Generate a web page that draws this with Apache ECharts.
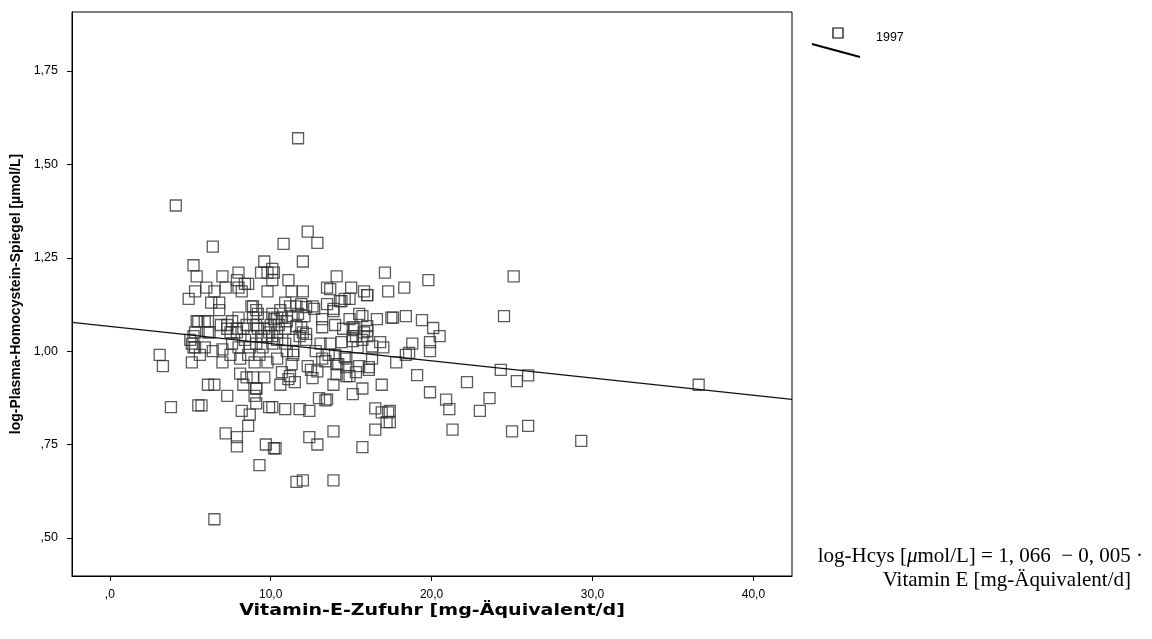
<!DOCTYPE html>
<html><head><meta charset="utf-8">
<script src="https://cdn.jsdelivr.net/npm/echarts@6/dist/echarts.min.js"></script>
<style>html,body{margin:0;padding:0;background:#fff}#c{width:1152px;height:639px}</style>
</head><body><div id="c"></div>
<script>
// Vitamin E intake [mg-Äquivalent/d] vs log plasma homocysteine [µmol/L]
const vitaminE = [
3.1,3.3,3.8,4.1,4.9,5.2,5.3,5.4,5.4,5.3,5.1,5.2,5.1,5.5,5.7,6.5,
6.4,6.0,7.0,8.0,7.9,8.4,8.2,7.2,6.5,6.3,6.8,6.8,5.5,6.1,6.1,7.3,7.6,8.0,7.9,
7.0,6.1,6.5,7.3,8.2,8.7,8.6,7.2,7.9,7.9,8.0,8.6,
7.3,7.5,7.9,8.3,8.5,9.1,9.6,9.9,9.4,9.8,10.4,
5.2,5.3,5.9,6.4,7.0,7.6,8.0,8.4,8.7,9.1,9.5,10.1,
8.1,9.3,9.8,10.4,
8.1,8.5,8.9,9.1,9.0,9.1,9.6,9.9,8.3,9.1,9.7,10.2,9.3,
8.9,9.1,8.9,9.6,10.1,10.4,10.2,8.8,9.2,
9.6,9.4,9.8,10.1,10.1,9.8,
10.8,12.9,12.0,17.1,10.2,11.1,11.3,12.0,10.9,14.1,13.5,15.0,15.8,16.0,17.3,18.3,
11.6,11.9,12.2,12.7,13.5,13.9,14.3,14.6,14.9,
10.7,11.3,11.7,12.1,
13.2,14.0,14.9,15.7,16.0,16.6,17.5,18.4,
11.9,12.0,11.8,15.2,15.1,15.8,16.0,
10.1,10.4,10.9,11.4,12.2,
16.8,17.0,17.8,18.4,
11.4,11.3,12.3,13.4,14.0,14.6,14.7,15.5,16.1,
13.7,14.4,16.0,13.9,13.2,15.5,15.1,16.0,11.6,12.2,
13.7,14.4,15.1,15.3,15.7,16.3,11.4,13.2,14.7,16.3,14.1,
12.9,11.1,11.5,12.6,13.9,14.2,14.7,15.3,15.1,15.7,13.0,13.5,
10.7,11.2,10.6,14.1,14.9,16.9,16.1,
10.1,10.9,11.8,12.4,13.4,13.9,12.4,12.9,10.3,15.7,16.5,16.9,17.3,17.2,16.5,
11.6,12.0,13.9,
17.6,19.4,20.1,20.5,19.9,19.9,18.8,18.6,19.8,25.1,24.5,24.3,25.3,26.0,19.1,22.2,
19.9,20.9,21.1,23.6,23.0,21.3,25.0,26.0,17.4,17.4,29.3,36.6,
11.7,12.3,
7.5,8.6,9.0,8.8,9.2,10.0,10.5,10.9,11.0,10.6,11.2,5.0,5.6,6.2,6.9,5.9,
12.8,13.1,12.5,14.5,15.4,12.6,11.0,13.6
];
const logHcys = [
0.99,0.96,0.85,1.39,1.14,1.23,1.16,1.20,1.08,1.05,1.02,1.01,0.97,0.855,0.855,0.55,
1.28,1.17,1.20,1.21,1.19,1.18,1.16,1.17,1.16,1.13,1.13,1.11,1.08,1.08,1.05,1.06,1.08,1.09,1.06,
0.97,0.91,0.91,0.88,0.84,0.83,0.80,0.78,0.77,0.745,1.17,1.18,
1.07,1.05,1.05,1.06,1.07,1.07,1.06,1.05,1.04,1.04,1.05,
1.04,1.01,1.01,1.00,1.005,1.02,1.01,1.03,1.01,1.02,1.01,1.02,
0.98,0.99,0.97,0.98,
0.94,0.93,0.93,0.90,0.88,0.86,0.93,0.85,0.91,0.90,0.75,0.74,0.695,
1.12,1.11,1.09,1.09,1.10,1.09,1.086,1.12,1.10,
1.24,1.21,1.21,1.22,1.19,1.16,
1.287,1.29,1.24,1.21,1.21,1.19,1.16,1.16,1.13,1.20,1.17,1.17,1.16,1.15,1.16,1.17,
1.12,1.126,1.118,1.113,1.126,1.113,1.134,1.14,1.14,
1.09,1.094,1.10,1.094,
1.064,1.07,1.086,1.094,1.067,1.086,1.09,1.094,
1.064,1.05,1.04,1.06,1.04,1.05,1.04,
1.04,1.03,1.02,1.03,1.03,
1.024,1.01,0.97,0.99,
0.99,0.965,0.96,0.973,0.99,0.984,0.957,0.96,0.957,
1.166,1.134,1.15,1.107,1.086,1.10,1.064,1.054,1.067,1.046,
1.02,1.024,1.027,1.04,1.03,1.013,1.00,0.98,0.98,0.98,0.965,
0.946,0.925,0.917,0.928,0.91,0.965,0.933,0.944,0.885,0.90,0.874,0.871,
0.944,0.933,0.91,0.938,0.933,0.91,0.95,
0.85,0.845,0.845,0.84,0.868,0.785,0.77,0.75,0.74,0.743,0.847,0.836,0.836,0.81,0.79,
0.65,0.654,0.654,
1.09,1.083,1.062,1.04,1.024,1.00,1.02,0.995,1.19,1.20,1.094,0.95,0.92,0.935,0.936,0.917,
0.89,0.87,0.845,0.874,0.84,0.79,0.785,0.80,0.84,0.81,0.76,0.91,
1.57,1.32,
0.99,0.99,0.97,1.04,1.06,1.07,1.07,1.06,1.08,1.11,1.12,1.03,0.99,1.05,1.07,1.08,
1.00,1.02,0.95,1.06,1.01,1.12,1.00,0.99
];
// fitted line endpoints (log-Hcys = 1,066 − 0,005 · Vitamin E)
const fitX = [-2.35, 42.4];
const fitY = [1.077, 0.871];
const xTicks = [0, 10, 20, 30, 40];
const xTickLabels = [',0', '10,0', '20,0', '30,0', '40,0'];
const yTicks = [0.5, 0.75, 1.0, 1.25, 1.5, 1.75];
const yTickLabels = [',50', ',75', '1,00', '1,25', '1,50', '1,75'];
const legendLabel = '1997';
const xTitle = 'Vitamin-E-Zufuhr [mg-Äquivalent/d]';
const yTitle = 'log-Plasma-Homocystein-Spiegel [µmol/L]';

const points = vitaminE.map((v, i) => [v, logHcys[i]]);
const fit = fitX.map((v, i) => [v, fitY[i]]);
const lab = (vals, labels) => (v) => { const i = vals.findIndex(t => Math.abs(t - v) < 1e-9); return i >= 0 ? labels[i] : ''; };
const narrow = '"Liberation Sans Narrow", "Liberation Sans", Arial, sans-serif';
const serif = '"Liberation Serif", "Times New Roman", serif';

const chart = echarts.init(document.getElementById('c'), null, {renderer: 'canvas'});
chart.setOption({
  animation: false,
  backgroundColor: '#fff',
  grid: {left: 72, right: 360, top: 12, bottom: 63, show: true, borderColor: '#000', borderWidth: 1, containLabel: false},
  xAxis: {
    type: 'value', min: -2.35, max: 42.4,
    axisLine: {show: true, onZero: false, lineStyle: {color: '#000', width: 1}},
    axisTick: {show: true, length: 5, lineStyle: {color: '#000'}, customValues: xTicks},
    axisLabel: {color: '#000', fontFamily: 'Liberation Sans, Arial, sans-serif', fontSize: 12, margin: 13, customValues: xTicks, formatter: lab(xTicks, xTickLabels)},
    splitLine: {show: false}
  },
  yAxis: {
    type: 'value', min: 0.398, max: 1.908,
    axisLine: {show: true, onZero: false, lineStyle: {color: '#000', width: 1}},
    axisTick: {show: true, length: 5, lineStyle: {color: '#000'}, customValues: yTicks},
    axisLabel: {color: '#000', fontFamily: narrow, fontSize: 12.5, margin: 14, customValues: yTicks, formatter: lab(yTicks, yTickLabels)},
    splitLine: {show: false},
    name: yTitle, nameLocation: 'middle', nameGap: 44, nameRotate: 90,
    nameTextStyle: {color: '#000', fontFamily: 'Liberation Sans, Arial, sans-serif', fontWeight: 'bold', fontSize: 14}
  },
  series: [
    {type: 'scatter', data: points, symbol: 'rect', symbolSize: 11,
     itemStyle: {color: 'rgba(0,0,0,0)', borderColor: '#333', borderWidth: 1.3}, z: 3},
    {type: 'line', data: fit, symbol: 'none', lineStyle: {color: '#111', width: 1.3}, z: 4, silent: true}
  ],
  graphic: [
    {type: 'text', x: 432, y: 611, scaleX: 1.27, style: {text: xTitle, fill: '#000', font: 'bold 15px "DejaVu Sans", Arial, sans-serif', textAlign: 'center', textVerticalAlign: 'middle'}},
    {type: 'rect', shape: {x: 833, y: 28, width: 10, height: 10}, style: {fill: 'none', stroke: '#000', lineWidth: 1.2}},
    {type: 'line', shape: {x1: 812, y1: 44, x2: 860, y2: 57}, style: {stroke: '#000', lineWidth: 2}},
    {type: 'text', x: 876, y: 38, style: {text: legendLabel, fill: '#000', font: '12.5px ' + narrow, textVerticalAlign: 'middle'}},
    {type: 'text', x: 1143, y: 556, style: {
      text: '{a|log-Hcys [}{b|\u03BC}{a|mol/L] = 1, 066  \u2212 0, 005 \u00B7}',
      textAlign: 'right', textVerticalAlign: 'middle',
      rich: {a: {fill: '#000', fontFamily: serif, fontSize: 21}, b: {fill: '#000', fontFamily: serif, fontSize: 21, fontStyle: 'italic'}}
    }},
    {type: 'text', x: 1131, y: 580, style: {text: 'Vitamin E [mg-Äquivalent/d]', fill: '#000', font: '21px ' + serif, textAlign: 'right', textVerticalAlign: 'middle'}}
  ]
});
</script></body></html>
